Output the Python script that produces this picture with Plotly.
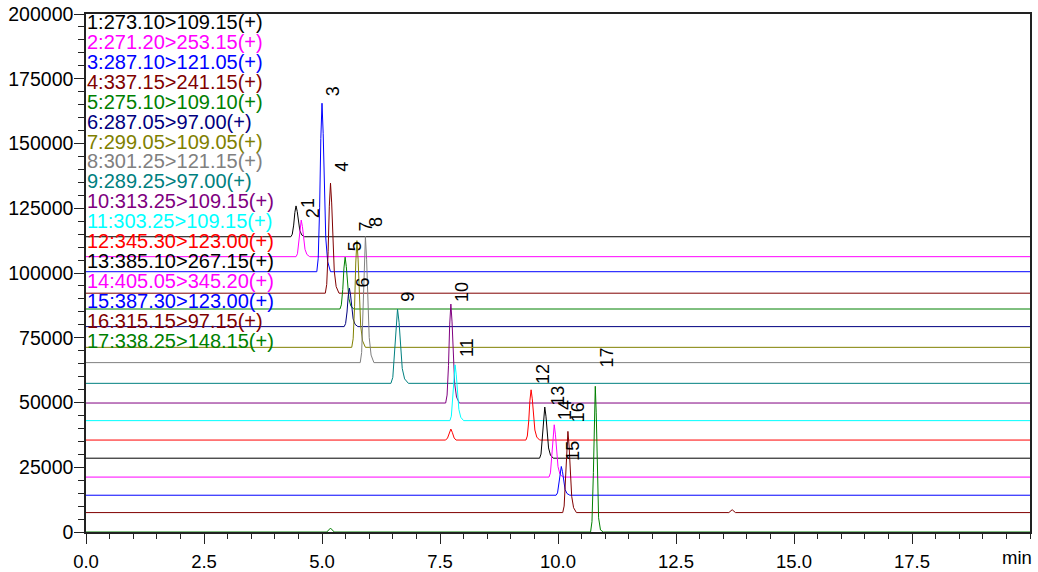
import plotly.graph_objects as go

# MRM channels (Q1 > Q3, polarity)
channels = [
    "1:273.10>109.15(+)", "2:271.20>253.15(+)", "3:287.10>121.05(+)",
    "4:337.15>241.15(+)", "5:275.10>109.10(+)", "6:287.05>97.00(+)",
    "7:299.05>109.05(+)", "8:301.25>121.15(+)", "9:289.25>97.00(+)",
    "10:313.25>109.15(+)", "11:303.25>109.15(+)", "12:345.30>123.00(+)",
    "13:385.10>267.15(+)", "14:405.05>345.20(+)", "15:387.30>123.00(+)",
    "16:315.15>97.15(+)", "17:338.25>148.15(+)",
]

colors = [
    "#000000", "#FF00FF", "#0000FF", "#800000", "#008000", "#000080",
    "#808000", "#808080", "#008080", "#800080", "#00FFFF", "#FF0000",
    "#000000", "#FF00FF", "#0000FF", "#800000", "#008000",
]

# vertical offset of each trace (stacked display)
baselines = [114000, 106300, 100500, 92200, 86100, 79300, 71300, 65400,
             57400, 49800, 43000, 35500, 28500, 21200, 14200, 7500, 0]

# retention time (min) and signal above baseline for each channel
times = [
    [0, 4.34, 4.37, 4.40, 4.425, 4.45, 4.475, 4.50, 4.53, 4.57, 4.63, 20],
    [0, 4.45, 4.48, 4.51, 4.535, 4.56, 4.585, 4.61, 4.64, 4.68, 4.74, 20],
    [0, 4.89, 4.92, 4.95, 4.975, 5.00, 5.025, 5.05, 5.08, 5.12, 5.18, 20],
    [0, 5.07, 5.10, 5.13, 5.155, 5.18, 5.205, 5.23, 5.26, 5.30, 5.36, 20],
    [0, 5.38, 5.41, 5.44, 5.465, 5.49, 5.515, 5.54, 5.57, 5.61, 5.67, 20],
    [0, 5.47, 5.50, 5.53, 5.555, 5.58, 5.605, 5.63, 5.66, 5.70, 5.76, 20],
    [0, 5.63, 5.66, 5.69, 5.715, 5.74, 5.765, 5.79, 5.82, 5.86, 5.92, 20],
    [0, 5.81, 5.84, 5.87, 5.895, 5.92, 5.945, 5.97, 6.00, 6.04, 6.10, 20],
    [0, 6.46, 6.50, 6.535, 6.567, 6.60, 6.633, 6.665, 6.70, 6.75, 6.83, 20],
    [0, 7.62, 7.65, 7.68, 7.705, 7.73, 7.755, 7.78, 7.81, 7.85, 7.91, 20],
    [0, 7.71, 7.74, 7.77, 7.795, 7.82, 7.845, 7.87, 7.90, 7.94, 8.00, 20],
    [0, 7.62, 7.66, 7.70, 7.73, 7.76, 7.80, 7.84,
     9.32, 9.35, 9.38, 9.405, 9.43, 9.455, 9.48, 9.51, 9.55, 9.61, 20],
    [0, 9.61, 9.64, 9.67, 9.695, 9.72, 9.745, 9.77, 9.80, 9.84, 9.90, 20],
    [0, 9.81, 9.84, 9.87, 9.895, 9.92, 9.945, 9.97, 10.00, 10.04, 10.10, 20],
    [0, 9.96, 9.99, 10.02, 10.045, 10.07, 10.095, 10.12, 10.15, 10.19, 10.25, 20],
    [0, 10.10, 10.13, 10.16, 10.185, 10.21, 10.235, 10.26, 10.29, 10.33, 10.39,
     13.62, 13.69, 13.76, 20],
    [0, 5.10, 5.18, 5.26,
     10.69, 10.72, 10.75, 10.77, 10.79, 10.81, 10.83, 10.86, 10.90, 10.96, 20],
]

signals = [
    [0, 0, 950, 4500, 9400, 11900, 9750, 5700, 2400, 700, 0, 0],
    [0, 0, 1130, 5380, 11180, 14150, 11600, 6790, 2830, 850, 0, 0],
    [0, 0, 5200, 24700, 51400, 65050, 53300, 31200, 13000, 3900, 0, 0],
    [0, 0, 3400, 16150, 33600, 42500, 34850, 20400, 8500, 2550, 0, 0],
    [0, 0, 1600, 7600, 15800, 20000, 16400, 9600, 4000, 1200, 0, 0],
    [0, 0, 1190, 5640, 11730, 14850, 12180, 7130, 2970, 890, 0, 0],
    [0, 0, 3300, 15660, 32550, 41200, 33780, 19780, 8240, 2470, 0, 0],
    [0, 0, 3900, 18500, 38470, 48700, 39930, 23380, 9740, 2920, 0, 0],
    [0, 0, 2290, 10890, 22630, 28650, 23490, 13750, 5730, 1720, 0, 0],
    [0, 0, 3060, 14520, 30180, 38200, 31320, 18340, 7640, 2290, 0, 0],
    [0, 0, 1720, 8190, 17020, 21550, 17670, 10340, 4310, 1290, 0, 0],
    [0, 0, 800, 3000, 4250, 3000, 800, 0,
     0, 1550, 7370, 15330, 19400, 15910, 9310, 3880, 1160, 0, 0],
    [0, 0, 1580, 7500, 15600, 19750, 16200, 9480, 3950, 1190, 0, 0],
    [0, 0, 1620, 7680, 15960, 20200, 16560, 9700, 4040, 1210, 0, 0],
    [0, 0, 890, 4220, 8770, 11100, 9100, 5330, 2220, 670, 0, 0],
    [0, 0, 2510, 11910, 24770, 31350, 25710, 15050, 6270, 1880, 0,
     0, 1100, 0, 0],
    [0, 0, 1500, 0,
     0, 4000, 23000, 45000, 56250, 46000, 25000, 5500, 800, 0, 0],
]

# peak-number label placement relative to each apex (pixels)
label_dx = [12, 12, 11, 12, 10, 14, 9, 11, 11, 11, 12, 12, 13, 11, 12, 10, 12]
label_dy = [3, 7, 12, 16, 11, 6, 14, 15, 12, 12, 17, 16, 11, 15, 16, 19, 29]

x_ticks = [0, 2.5, 5, 7.5, 10, 12.5, 15, 17.5]
y_ticks = [0, 25000, 50000, 75000, 100000, 125000, 150000, 175000, 200000]

FONT = "Liberation Sans, Arial, sans-serif"
W, H = 1038, 572
M_L, M_R, M_T, M_B = 86, 8, 14, 40
plot_h = H - M_T - M_B

fig = go.Figure()
for i in range(len(channels)):
    y = [baselines[i] + s for s in signals[i]]
    fig.add_trace(go.Scatter(
        x=times[i], y=y, mode="lines", name=channels[i],
        line=dict(color=colors[i], width=1),
        hoverinfo="skip", showlegend=False,
    ))

annotations = []
# channel list in the upper left corner
for i, txt in enumerate(channels):
    cy = 22 + 19.92 * i
    annotations.append(dict(
        text=txt, xref="paper", yref="paper", x=0, y=1 - (cy - M_T) / plot_h,
        xanchor="left", yanchor="middle", showarrow=False,
        font=dict(family=FONT, size=20, color=colors[i]),
        borderpad=0,
    ))

# peak numbers, rotated, just above each apex
for i in range(len(channels)):
    k = max(range(len(signals[i])), key=lambda j: signals[i][j])
    annotations.append(dict(
        text=str(i + 1), x=times[i][k], y=baselines[i] + signals[i][k],
        xref="x", yref="y", showarrow=False, textangle=-90,
        xanchor="center", yanchor="middle",
        xshift=label_dx[i], yshift=label_dy[i],
        font=dict(family=FONT, size=18, color="#000000"),
    ))

annotations.append(dict(
    text="min", xref="paper", yref="paper", x=1.004, y=-(557 - M_T - plot_h) / plot_h,
    xanchor="right", yanchor="middle", showarrow=False,
    font=dict(family=FONT, size=18.5, color="#000000"),
))

fig.update_layout(
    width=W, height=H,
    margin=dict(l=M_L, r=M_R, t=M_T, b=M_B, pad=0),
    paper_bgcolor="white", plot_bgcolor="white",
    annotations=annotations,
    xaxis=dict(
        range=[0, 20], tickvals=x_ticks, ticktext=[f"{v:.1f}" for v in x_ticks],
        automargin=False, ticklabelstandoff=2,
        showgrid=False, zeroline=False, showline=True, linecolor="#222222",
        linewidth=1.5, mirror=True, ticks="outside", ticklen=10, tickwidth=1,
        tickcolor="#222222",
        tickfont=dict(family=FONT, size=18.5, color="#000000"),
        minor=dict(dtick=0.5, ticks="outside", ticklen=5, tickwidth=1,
                   tickcolor="#222222", showgrid=False),
    ),
    yaxis=dict(
        range=[0, 200000], tickvals=y_ticks, ticktext=[str(v) for v in y_ticks],
        automargin=False, ticklabelstandoff=-3,
        showgrid=False, zeroline=False, showline=True, linecolor="#222222",
        linewidth=1.5, mirror=True, ticks="outside", ticklen=10, tickwidth=1,
        tickcolor="#222222",
        tickfont=dict(family=FONT, size=19.5, color="#000000"),
        minor=dict(dtick=5000, ticks="outside", ticklen=6, tickwidth=1,
                   tickcolor="#222222", showgrid=False),
    ),
)

fig.write_html("out.html")
